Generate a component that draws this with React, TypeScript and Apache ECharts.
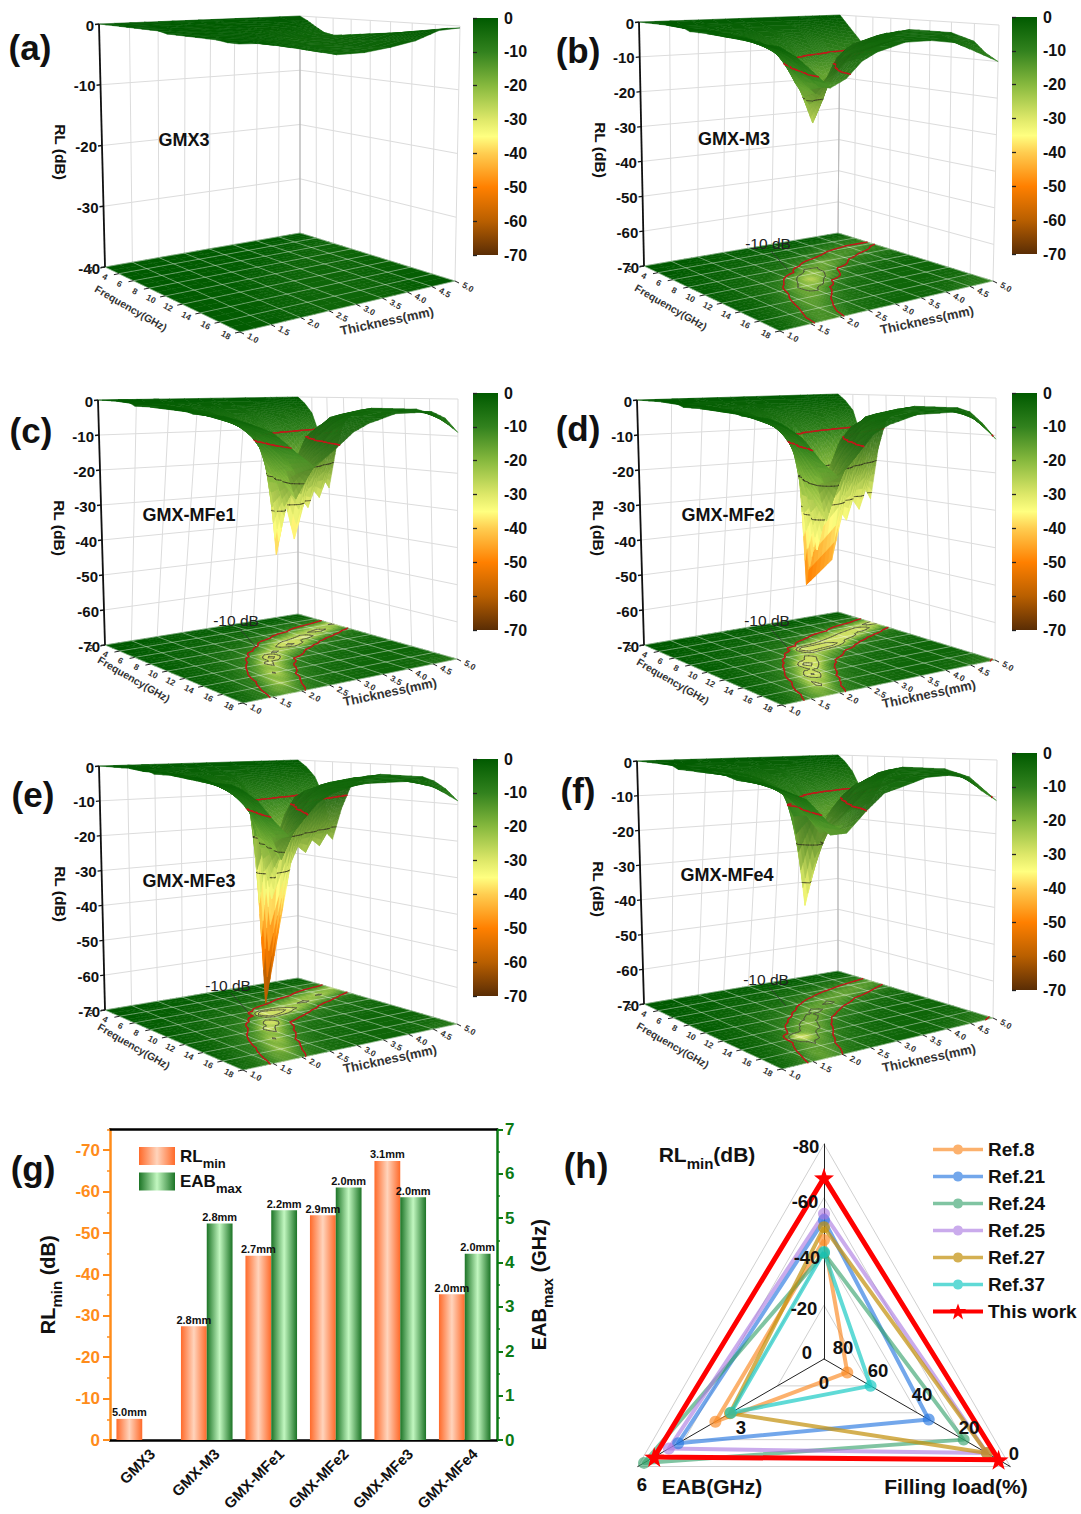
import React, { useEffect, useRef } from "react";
import * as echarts from "echarts";

// ---------- 3D surface data: RL (dB) read per thickness (rows) and frequency (columns)
const thicknessMm = [1, 1.25, 1.5, 1.75, 2, 2.25, 2.5, 2.75, 3, 3.5, 4, 4.5, 5];
const frequencyGHz = [2, 3, 4, 5, 6, 7, 8, 9, 10, 11, 12, 13, 14, 15, 16, 17, 18];

const rlGMX3 = [
  [0,0,0,0,0,0,0,0,0,-.3,-.3,-.3,-.3,-.3,-.3,-.5,-.5],
  [0,0,0,0,0,0,0,0,-.3,-.3,-.3,-.3,-.3,-.5,-.5,-.5,-.6],
  [0,0,0,0,0,0,-.3,-.3,-.3,-.3,-.4,-.5,-.5,-.6,-.7,-1,-1],
  [0,0,0,0,0,-.3,-.3,-.3,-.4,-.5,-.6,-.7,-.8,-1,-1.1,-1.4,-1.5],
  [0,0,0,0,-.3,-.3,-.3,-.4,-.5,-.6,-.8,-1,-1.2,-1.4,-1.6,-1.8,-2],
  [0,0,0,-.3,-.3,-.3,-.4,-.6,-.7,-1,-1.1,-1.4,-1.6,-1.8,-2.1,-2.4,-2.5],
  [0,0,0,-.3,-.3,-.4,-.6,-.7,-1,-1.3,-1.5,-1.8,-2,-2.2,-2.5,-2.8,-3],
  [0,0,0,-.3,-.4,-.6,-.7,-1,-1.3,-1.6,-2,-2.2,-2.4,-2.6,-2.8,-3,-3],
  [0,0,-.3,-.4,-.5,-.7,-1,-1.4,-1.8,-2.2,-2.5,-2.7,-2.9,-3,-3,-3,-3],
  [0,0,-.3,-.5,-.8,-1.1,-1.6,-2.2,-2.6,-2.9,-3,-3,-3,-3,-2.9,-2.7,-2.5],
  [0,-.3,-.5,-.9,-1.4,-2,-2.7,-3,-3,-2.9,-2.7,-2.5,-2.4,-2.2,-2.1,-1.9,-1.8],
  [0,-.5,-1,-1.7,-2.5,-3,-2.9,-2.7,-2.4,-2.2,-2,-1.7,-1.5,-1.2,-1,-.7,-.5],
  [0,-.8,-1.8,-2.7,-3,-2.9,-2.7,-2.5,-2.3,-2.1,-1.9,-1.7,-1.4,-1.1,-.8,-.5,-.3],
];
const rlGMXM3 = [
  [0,0,0,0,0,0,0,-1,-1,-1,-1,-1,-1,-1,-2,-2,-2],
  [0,0,0,0,-1,-1,-1,-1,-1,-2,-2,-2,-2,-3,-3,-4,-5],
  [0,0,-1,-1,-1,-1,-2,-2,-2,-3,-3,-3,-4,-5,-6,-8,-9],
  [0,0,-1,-1,-1,-2,-2,-3,-3,-4,-5,-6,-7,-9,-11,-13,-13],
  [0,-1,-1,-1,-2,-2,-3,-4,-5,-6,-7,-10,-13,-15,-14,-12,-11],
  [0,-1,-1,-2,-2,-3,-4,-5,-6,-10,-15,-16,-17,-13,-10,-8,-7],
  [0,-1,-1,-2,-3,-4,-5,-6,-12,-17,-21,-18,-12,-8,-6,-5,-5],
  [0,-1,-2,-2,-3,-4,-6,-9,-19,-27,-20,-10,-7,-6,-5,-4,-4],
  [0,-1,-2,-3,-4,-6,-9,-18,-22,-18,-9,-6,-5,-4,-4,-3,-3],
  [0,-1,-2,-3,-6,-10,-17,-16,-9,-6,-5,-4,-3,-3,-3,-3,-3],
  [0,-1,-3,-6,-10,-13,-12,-8,-6,-4,-3,-3,-3,-3,-3,-3,-4],
  [0,-2,-5,-8,-12,-12,-8,-6,-4,-3,-3,-3,-3,-3,-4,-5,-7],
  [0,-3,-6,-9,-11,-8,-6,-4,-3,-3,-3,-3,-3,-4,-5,-8,-10],
];
const rlGMXMFe1 = [
  [0,0,0,0,0,0,0,-1,-1,-1,-1,-1,-1,-2,-2,-2,-3],
  [0,0,0,0,-1,-1,-1,-1,-1,-2,-2,-2,-3,-3,-4,-5,-6],
  [0,0,-1,-1,-1,-1,-2,-2,-2,-3,-3,-4,-5,-6,-7,-9,-11],
  [0,0,-1,-1,-1,-2,-2,-3,-3,-4,-5,-6,-8,-10,-13,-17,-15],
  [0,-1,-1,-1,-2,-2,-3,-4,-5,-6,-8,-11,-15,-20,-24,-15,-11],
  [0,-1,-1,-2,-2,-3,-4,-5,-7,-9,-13,-19,-27,-20,-12,-9,-7],
  [0,-1,-1,-2,-3,-4,-5,-7,-10,-16,-30,-24,-14,-9,-7,-6,-5],
  [0,-1,-2,-2,-3,-4,-6,-10,-20,-42,-20,-11,-8,-6,-5,-4,-4],
  [0,-1,-2,-3,-4,-6,-9,-16,-28,-18,-10,-7,-5,-4,-4,-4,-3],
  [0,-1,-2,-4,-6,-11,-24,-40,-14,-8,-5,-4,-4,-3,-3,-3,-3],
  [0,-1,-3,-5,-10,-22,-32,-13,-7,-5,-4,-3,-3,-3,-3,-3,-3],
  [0,-2,-4,-8,-18,-30,-14,-7,-5,-4,-3,-3,-3,-3,-3,-4,-5],
  [0,-2,-5,-12,-28,-15,-7,-5,-4,-3,-3,-3,-3,-3,-4,-6,-9],
];
const rlGMXMFe2 = [
  [0,0,0,0,0,0,0,-1,-1,-1,-1,-1,-1,-2,-2,-2,-3],
  [0,0,0,0,-1,-1,-1,-1,-1,-2,-2,-2,-3,-3,-4,-5,-7],
  [0,0,-1,-1,-1,-1,-2,-2,-2,-3,-3,-4,-5,-6,-8,-10,-13],
  [0,0,-1,-1,-1,-2,-2,-3,-3,-4,-5,-6,-8,-11,-15,-19,-17],
  [0,-1,-1,-1,-2,-2,-3,-4,-5,-6,-8,-12,-18,-25,-29,-17,-12],
  [0,-1,-1,-2,-2,-3,-4,-5,-7,-10,-15,-24,-38,-23,-13,-9,-7],
  [0,-1,-1,-2,-3,-4,-5,-8,-11,-19,-44,-28,-15,-10,-7,-6,-5],
  [0,-1,-2,-2,-3,-5,-7,-11,-22,-32,-24,-12,-8,-6,-5,-4,-4],
  [0,-1,-2,-3,-4,-6,-10,-52,-26,-19,-11,-7,-5,-4,-4,-4,-3],
  [0,-1,-2,-4,-6,-12,-26,-46,-16,-8,-5,-4,-4,-3,-3,-3,-3],
  [0,-1,-3,-5,-10,-24,-36,-14,-7,-5,-4,-3,-3,-3,-3,-3,-3],
  [0,-2,-4,-8,-19,-34,-15,-7,-5,-4,-3,-3,-3,-3,-3,-4,-6],
  [0,-2,-5,-13,-32,-16,-7,-5,-4,-3,-3,-3,-3,-3,-4,-7,-11],
];
const rlGMXMFe3 = [
  [0,0,0,0,0,0,0,-1,-1,-1,-1,-1,-1,-2,-2,-2,-3],
  [0,0,0,0,-1,-1,-1,-1,-1,-2,-2,-2,-3,-3,-4,-5,-6],
  [0,0,-1,-1,-1,-1,-2,-2,-2,-3,-3,-4,-5,-6,-7,-9,-11],
  [0,0,-1,-1,-1,-2,-2,-3,-3,-4,-5,-6,-8,-10,-13,-16,-15],
  [0,-1,-1,-1,-2,-2,-3,-4,-5,-6,-8,-11,-14,-19,-22,-15,-11],
  [0,-1,-1,-2,-2,-3,-4,-5,-7,-9,-12,-18,-25,-19,-12,-9,-7],
  [0,-1,-1,-2,-3,-4,-5,-7,-10,-16,-30,-23,-13,-9,-7,-6,-5],
  [0,-1,-2,-2,-3,-4,-6,-10,-18,-36,-19,-11,-8,-6,-5,-4,-4],
  [0,-1,-2,-3,-4,-7,-12,-67,-22,-13,-8,-6,-5,-4,-4,-4,-3],
  [0,-1,-2,-4,-6,-11,-20,-28,-13,-8,-5,-4,-4,-3,-3,-3,-3],
  [0,-1,-3,-5,-9,-19,-26,-12,-7,-5,-4,-3,-3,-3,-3,-3,-3],
  [0,-2,-4,-8,-16,-25,-13,-7,-5,-4,-3,-3,-3,-3,-3,-4,-5],
  [0,-2,-5,-11,-24,-14,-7,-5,-4,-3,-3,-3,-3,-3,-4,-6,-9],
];
const rlGMXMFe4 = [
  [0,0,0,0,0,0,0,-1,-1,-1,-1,-1,-1,-2,-2,-2,-3],
  [0,0,0,0,-1,-1,-1,-1,-1,-2,-2,-2,-3,-3,-4,-5,-6],
  [0,0,-1,-1,-1,-1,-2,-2,-2,-3,-3,-4,-5,-6,-8,-10,-12],
  [0,0,-1,-1,-1,-2,-2,-3,-3,-4,-5,-6,-8,-11,-14,-16,-15],
  [0,-1,-1,-1,-2,-2,-3,-4,-5,-6,-8,-11,-36,-17,-15,-13,-10],
  [0,-1,-1,-2,-2,-3,-4,-5,-7,-9,-14,-18,-17,-14,-10,-8,-6],
  [0,-1,-1,-2,-3,-4,-5,-7,-9,-14,-20,-17,-12,-8,-6,-5,-5],
  [0,-1,-2,-2,-3,-4,-6,-9,-14,-19,-14,-10,-7,-6,-5,-4,-4],
  [0,-1,-2,-3,-4,-6,-9,-14,-18,-13,-9,-6,-5,-4,-4,-3,-3],
  [0,-1,-2,-4,-6,-10,-15,-17,-11,-7,-5,-4,-3,-3,-3,-3,-3],
  [0,-1,-3,-5,-9,-15,-16,-10,-6,-4,-3,-3,-3,-3,-3,-3,-4],
  [0,-2,-4,-7,-13,-16,-11,-6,-4,-3,-3,-3,-3,-3,-4,-5,-8],
  [0,-2,-5,-10,-15,-11,-6,-4,-3,-3,-3,-3,-3,-4,-5,-8,-11],
];

const frequencyTicks = [2, 4, 6, 8, 10, 12, 14, 16, 18];
const thicknessTicks = ["1.0", "1.5", "2.0", "2.5", "3.0", "3.5", "4.0", "4.5", "5.0"];
const rlTicks40 = [0, -10, -20, -30, -40];
const rlTicks70 = [0, -10, -20, -30, -40, -50, -60, -70];

// ---------- bar chart (g)
const categories = ["GMX3", "GMX-M3", "GMX-MFe1", "GMX-MFe2", "GMX-MFe3", "GMX-MFe4"];
const rlMin = [-5.1, -27.5, -44.5, -54.3, -67.4, -35.2];
const eabMax = [null, 4.88, 5.18, 5.69, 5.47, 4.2];
const rlThickness = ["5.0mm", "2.8mm", "2.7mm", "2.9mm", "3.1mm", "2.0mm"];
const eabThickness = ["", "2.8mm", "2.2mm", "2.0mm", "2.0mm", "2.0mm"];

// ---------- radar chart (h)
const refNames = ["Ref.8", "Ref.21", "Ref.24", "Ref.25", "Ref.27", "Ref.37", "This work"];
const refRL = [-44.3, -51.7, -39.4, -54, -49, -39.8, -67.4];
const refEAB = [3.5, 4.7, 5.8, 5.0, 3.03, 3.0, 5.47];
const refLoad = [70, 35, 20, 10, 10, 60, 5];
const refColors = [
  "rgba(250,140,40,0.68)", "rgba(40,120,225,0.65)", "rgba(50,160,105,0.62)", "rgba(170,120,225,0.62)",
  "rgba(195,145,15,0.72)", "rgba(20,200,195,0.68)", "#ff0000",
];

// ---------- layout (pixels)
type Pt = [number, number];
const FONT = "Liberation Sans";
const layouts: any[] = [
  { title: "GMX3", table: rlGMX3, zmin: -40, ticks: rlTicks40, tag: "(a)", tagAt: [30, 47], nameAt: [184, 140], dbAt: null, inner: [],
    L: [105, 267], B: [300, 233], R: [455, 281], F: [240, 332], Lt: [99, 24], Bt: [300, 16], Rt: [460, 26], bar: [473, 18, 25, 237] },
  { title: "GMX-M3", table: rlGMXM3, zmin: -70, ticks: rlTicks70, tag: "(b)", tagAt: [578, 50], nameAt: [734, 139], dbAt: [768, 243], inner: [-17],
    L: [644, 266], B: [838, 233], R: [993, 281], F: [780, 331], Lt: [639, 22], Bt: [840, 15], Rt: [999, 25], bar: [1012, 17, 25, 237] },
  { title: "GMX-MFe1", table: rlGMXMFe1, zmin: -70, ticks: rlTicks70, tag: "(c)", tagAt: [31, 430], nameAt: [189, 515], dbAt: [236, 620], inner: [-26, -36],
    L: [105, 645], B: [298, 614], R: [457, 659], F: [243, 703], Lt: [98, 400], Bt: [298, 397], Rt: [458, 399], bar: [473, 393, 25, 237] },
  { title: "GMX-MFe2", table: rlGMXMFe2, zmin: -70, ticks: rlTicks70, tag: "(d)", tagAt: [578, 428], nameAt: [728, 515], dbAt: [767, 620], inner: [-26, -36],
    L: [644, 645], B: [838, 612], R: [995, 660], F: [782, 705], Lt: [637, 400], Bt: [838, 394], Rt: [996, 398], bar: [1012, 393, 25, 237] },
  { title: "GMX-MFe3", table: rlGMXMFe3, zmin: -70, ticks: rlTicks70, tag: "(e)", tagAt: [33, 794], nameAt: [189, 881], dbAt: [228, 985], inner: [-24, -36],
    L: [105, 1010], B: [298, 978], R: [457, 1024], F: [243, 1070], Lt: [99, 766], Bt: [298, 760], Rt: [458, 768], bar: [473, 759, 25, 237] },
  { title: "GMX-MFe4", table: rlGMXMFe4, zmin: -70, ticks: rlTicks70, tag: "(f)", tagAt: [578, 790], nameAt: [727, 875], dbAt: [766, 979], inner: [-16],
    L: [644, 1004], B: [838, 971], R: [993, 1018], F: [782, 1069], Lt: [637, 761], Bt: [838, 755], Rt: [997, 760], bar: [1012, 753, 25, 237] },
];

const colorStops: [number, number[]][] = [
  [0, [0, 90, 0]], [-10, [50, 130, 30]], [-20, [135, 185, 62]], [-30, [222, 232, 105]], [-35, [255, 255, 128]],
  [-40, [255, 205, 80]], [-50, [255, 128, 0]], [-60, [185, 95, 0]], [-70, [90, 45, 5]],
];
const rgbAt = (v: number): number[] => {
  if (v >= 0) return colorStops[0][1];
  for (let k = 1; k < colorStops.length; k++) {
    const [v1, c1] = colorStops[k];
    const [v0, c0] = colorStops[k - 1];
    if (v >= v1) {
      const a = (v - v0) / (v1 - v0);
      return c0.map((c, n) => c + (c1[n] - c) * a);
    }
  }
  return [90, 45, 5];
};
const css = (c: number[], k = 1) => `rgb(${c.map((x) => Math.round(x * k)).join(",")})`;

const homography = (q: Pt[]) => {
  const [[x0, y0], [x1, y1], [x2, y2], [x3, y3]] = q;
  const dx1 = x1 - x2, dx2 = x3 - x2, sx = x0 - x1 + x2 - x3;
  const dy1 = y1 - y2, dy2 = y3 - y2, sy = y0 - y1 + y2 - y3;
  const den = dx1 * dy2 - dx2 * dy1;
  const g = (sx * dy2 - dx2 * sy) / den, h = (dx1 * sy - sx * dy1) / den;
  const a = x1 - x0 + g * x1, b = x3 - x0 + h * x3;
  const d = y1 - y0 + g * y1, e = y3 - y0 + h * y3;
  return (u: number, v: number): Pt => {
    const w = g * u + h * v + 1;
    return [(a * u + b * v + x0) / w, (d * u + e * v + y0) / w];
  };
};

const makeProject = (p: any) => {
  const height = (p.L[1] - p.Lt[1]) * 1.2;
  const Ft: Pt = [p.F[0] - 1, p.F[1] - height];
  const floor = homography([p.L, p.F, p.R, p.B]);
  const top = homography([p.Lt, Ft, p.Rt, p.Bt]);
  return (f: number, t: number, z: number): Pt => {
    const u = (f - 2) / 16, v = (t - 1) / 4;
    const a = floor(u, v), b = top(u, v), k = z / p.zmin;
    return [b[0] + (a[0] - b[0]) * k, b[1] + (a[1] - b[1]) * k];
  };
};

const contourSegs = (
  c: { f: number; t: number; v: number }[], level: number,
): { f: number; t: number }[][] => {
  const pts: { f: number; t: number }[] = [];
  for (let n = 0; n < 4; n++) {
    const a = c[n], b = c[(n + 1) % 4];
    if ((a.v > level) !== (b.v > level)) {
      const s = (level - a.v) / (b.v - a.v);
      pts.push({ f: a.f + (b.f - a.f) * s, t: a.t + (b.t - a.t) * s });
    }
  }
  const segs: { f: number; t: number }[][] = [];
  if (pts.length >= 2) segs.push([pts[0], pts[1]]);
  if (pts.length === 4) segs.push([pts[2], pts[3]]);
  return segs;
};

const cellItems: number[][] = [];
for (let i = thicknessMm.length - 2; i >= 0; i--) {
  for (let j = 0; j < frequencyGHz.length - 1; j++) cellItems.push([i, j]);
}

const surfaceLines = [
  { level: -10, stroke: "#c2181a", lineWidth: 1.5 },
  { level: -20, stroke: "rgba(50,50,30,0.8)", lineWidth: 0.9 },
  { level: -30, stroke: "rgba(50,50,30,0.8)", lineWidth: 0.9 },
];
const floorRed = { level: -10, stroke: "#c2181a", lineWidth: 1.3 };

type Mode = "surface" | "floor" | "floorContour";
const cellChildren = (p: any, proj: any, i: number, j: number, mode: Mode) => {
  const tb = p.table;
  const onFloor = mode !== "surface";
  const v00 = tb[i][j], v01 = tb[i][j + 1], v10 = tb[i + 1][j], v11 = tb[i + 1][j + 1];
  const range = Math.max(v00, v01, v10, v11) - Math.min(v00, v01, v10, v11);
  const n = onFloor ? (range > 3 ? 4 : range > 0.6 ? 2 : 1) : range > 6 ? 6 : range > 1.2 ? 3 : 1;
  const t0 = thicknessMm[i], t1 = thicknessMm[i + 1], f0 = frequencyGHz[j], f1 = frequencyGHz[j + 1];
  const at = (sa: number, sb: number) => {
    const a = sa / n, b = sb / n;
    return {
      t: t0 + (t1 - t0) * a,
      f: f0 + (f1 - f0) * b,
      v: v00 * (1 - a) * (1 - b) + v01 * (1 - a) * b + v10 * a * (1 - b) + v11 * a * b,
    };
  };
  const pr = (q: { f: number; t: number; v?: number }) => proj(q.f, q.t, onFloor ? p.zmin : (q.v as number));
  const levels = onFloor
    ? [floorRed, ...p.inner.map((level: number) => ({ level, stroke: "rgba(75,75,60,0.9)", lineWidth: 0.8 }))]
    : surfaceLines;
  const out: any[] = [];
  const lines: any[] = [];
  for (let sa = n - 1; sa >= 0; sa--) {
    for (let sb = 0; sb < n; sb++) {
      const c = [at(sa, sb), at(sa, sb + 1), at(sa + 1, sb + 1), at(sa + 1, sb)];
      const avg = (c[0].v + c[1].v + c[2].v + c[3].v) / 4;
      if (mode !== "floorContour") {
        // near flank (RL rising towards high frequency) reads slightly darker, only in the green range
        const slope = ((c[1].v + c[2].v - c[0].v - c[3].v) / 2) / ((f1 - f0) / n);
        const fade = Math.max(0, Math.min(1, (avg + 28) / 10));
        const k = onFloor ? 1 : 1 - 0.16 * fade * Math.min(1, Math.max(0, slope / 3));
        const col = css(rgbAt(onFloor ? Math.max(avg, -28) : avg), k);
        out.push({
          type: "polygon", silent: true,
          shape: { points: c.map(pr) },
          style: { fill: col, stroke: col, lineWidth: 0.5 },
        });
      }
      if (mode !== "floor") {
        for (const ln of levels) {
          for (const s of contourSegs(c, ln.level)) {
            const a = pr({ ...s[0], v: ln.level }), b = pr({ ...s[1], v: ln.level });
            lines.push({
              type: "line", silent: true,
              shape: { x1: a[0], y1: a[1], x2: b[0], y2: b[1] },
              style: { stroke: ln.stroke, lineWidth: ln.lineWidth, lineCap: "round" },
            });
          }
        }
      }
    }
  }
  return out.concat(lines);
};

const line = (a: Pt, b: Pt, stroke: string, lineWidth: number) => ({
  type: "line", silent: true,
  shape: { x1: a[0], y1: a[1], x2: b[0], y2: b[1] },
  style: { stroke, lineWidth },
});
const text = (s: string, x: number, y: number, o: any = {}) => ({
  type: "text", silent: true, x, y, rotation: o.rotation || 0,
  style: {
    text: s, fill: o.fill || "#111", fontSize: o.size || 13, fontWeight: o.weight || "bold", fontFamily: FONT,
    align: o.align || "center", verticalAlign: "middle",
  },
});

const panelSeries = (p: any, idx: number) => {
  const proj = makeProject(p);
  const tVals = thicknessTicks.map(Number);
  const walls = () => {
    const ch: any[] = [];
    const wc = "#dcdcdc";
    for (const z of p.ticks) {
      ch.push(line(proj(2, 1, z), proj(2, 5, z), wc, 1));
      ch.push(line(proj(2, 5, z), proj(18, 5, z), wc, 1));
    }
    for (const t of tVals) ch.push(line(proj(2, t, 0), proj(2, t, p.zmin), t === 5 ? "#bbb" : wc, 1));
    for (const f of frequencyTicks) ch.push(line(proj(f, 5, 0), proj(f, 5, p.zmin), f === 2 ? "#bbb" : wc, 1));
    return { type: "group", children: ch };
  };
  const floorGrid = () => {
    const ch: any[] = [];
    const c = "rgba(255,255,255,0.42)";
    for (const t of tVals) ch.push(line(proj(2, t, p.zmin), proj(18, t, p.zmin), c, 0.9));
    for (const f of frequencyTicks) ch.push(line(proj(f, 1, p.zmin), proj(f, 5, p.zmin), c, 0.9));
    return { type: "group", children: ch };
  };
  const overlay = () => {
    const ch: any[] = [];
    ch.push(line(p.Lt, p.L, "#111", 1.8));
    for (const z of p.ticks) {
      const a = proj(2, 1, z);
      ch.push(line(a, [a[0] - 4, a[1] + 0.5], "#111", 1.3));
      ch.push(text(String(z), a[0] - 5, a[1] + 1, { align: "right", size: 15 }));
    }
    ch.push(text("RL (dB)", p.Lt[0] - 39, p.Lt[1] + 128, { rotation: -Math.PI / 2, size: 15.5 }));
    const labelC = "#333";
    frequencyTicks.forEach((f) => {
      const a = proj(f, 1, p.zmin);
      ch.push(line(a, [a[0] - 5, a[1] + 1], "#222", 1));
      ch.push(text(String(f), a[0] - 14, a[1] + 3, { rotation: -0.5, size: 8.5, fill: labelC }));
    });
    thicknessTicks.forEach((s, n) => {
      const a = proj(18, tVals[n], p.zmin);
      ch.push(line(a, [a[0] + 4, a[1] + 2], "#222", 1));
      ch.push(text(s, a[0] + 13, a[1] + 6, { rotation: -0.5, size: 8.5, fill: labelC }));
    });
    ch.push(text("Frequency(GHz)", p.F[0] - 109, p.F[1] - 24, { rotation: -0.52, size: 10.5, fill: labelC }));
    ch.push(text("Thickness(mm)", p.F[0] + 147, p.F[1] - 11, { rotation: 0.21, size: 13, fill: labelC }));
    if (p.dbAt) {
      ch.push(line([p.dbAt[0] + 3, p.dbAt[1] + 8], [p.dbAt[0] + 20, p.dbAt[1] + 27], "#333", 0.8));
      ch.push(text("-10 dB", p.dbAt[0], p.dbAt[1], { size: 15.5, weight: "normal", fill: "#222" }));
    }
    return { type: "group", children: ch };
  };
  const base = { type: "custom", coordinateSystem: "none", silent: true, animation: false, tooltip: { show: false } };
  const cells = (mode: Mode) => (pr: any) => ({
    type: "group",
    children: cellChildren(p, proj, cellItems[pr.dataIndex][0], cellItems[pr.dataIndex][1], mode),
  });
  return [
    { ...base, name: `walls-${idx}`, z: 1, data: [[0]], renderItem: walls },
    { ...base, name: `floor-${idx}`, z: 2, data: cellItems, renderItem: cells("floor") },
    { ...base, name: `floorgrid-${idx}`, z: 3, data: [[0]], renderItem: floorGrid },
    { ...base, name: `floorcontour-${idx}`, z: 3, data: cellItems, renderItem: cells("floorContour") },
    { ...base, name: `surface-${idx}`, z: 4, data: cellItems, renderItem: cells("surface") },
    { ...base, name: `overlay-${idx}`, z: 5, data: [[0]], renderItem: overlay },
  ];
};

const gradientFor = () =>
  new echarts.graphic.LinearGradient(
    0, 0, 0, 1,
    colorStops.map(([v, c]) => ({ offset: -v / 70, color: `rgb(${c.join(",")})` })),
  );

const orangeFill = new echarts.graphic.LinearGradient(0, 0, 1, 0, [
  { offset: 0, color: "#ff6a2a" }, { offset: 0.5, color: "#ffd4bc" }, { offset: 1, color: "#ff6a2a" },
]);
const greenFill = new echarts.graphic.LinearGradient(0, 0, 1, 0, [
  { offset: 0, color: "#1c7426" }, { offset: 0.5, color: "#c2f7c0" }, { offset: 1, color: "#1c7426" },
]);

const ICON_DOT = "path://M0 6.3H20.3A5 5 0 0 1 29.7 6.3H50V9.7H29.7A5 5 0 0 1 20.3 9.7H0Z M0 0L0 0Z M0 16L0 16Z";
const ICON_STAR = "path://M0 6H50V10H0Z M25 0L27 5.6L33 5.6L28.2 9.2L30 16L25 12L20 16L21.8 9.2L17 5.6L23 5.6Z";
const STAR = "path://M0 -10L2.35 -3.24L9.51 -3.09L3.8 1.24L5.88 8.09L0 4L-5.88 8.09L-3.8 1.24L-9.51 -3.09L-2.35 -3.24Z";

const gText = (s: string, x: number, y: number, size: number, extra: any = {}) => ({
  type: "text", x, y, z: 100, silent: true,
  style: {
    text: s, fontSize: size, fontWeight: "bold", fontFamily: FONT, fill: "#111",
    align: "center", verticalAlign: "middle", ...extra,
  },
});

const buildOption = () => {
  const grids: any[] = [{ left: 110, width: 387, top: 1129.5, height: 310.5, outerBoundsMode: "none" }];
  const titleRich = {
    a: { fontFamily: FONT, fontWeight: "bold", fontSize: 20, color: "#111" },
    b: { fontFamily: FONT, fontWeight: "bold", fontSize: 15, color: "#111", verticalAlign: "bottom", padding: [0, 0, -6, 0] },
  };
  const xAxes: any[] = [
    {
      type: "category", gridIndex: 0, data: categories, position: "bottom",
      axisLine: { onZero: false, lineStyle: { color: "#000", width: 2.5 } },
      axisTick: { alignWithLabel: true, length: 6, lineStyle: { color: "#000", width: 2 } },
      axisLabel: {
        interval: 0, rotate: 45, fontFamily: FONT, fontWeight: "bold", fontSize: 15, color: "#111", margin: 21,
        padding: [0, -14, 0, 0],
      },
    },
    {
      type: "category", gridIndex: 0, data: categories, position: "top",
      axisLine: { onZero: false, lineStyle: { color: "#000", width: 2.5 } }, axisTick: { show: false }, axisLabel: { show: false },
    },
  ];
  const yAxes: any[] = [
    {
      type: "value", gridIndex: 0, min: -75, max: 0, interval: 5, inverse: true, position: "left",
      name: "{a|RL}{b|min}{a| (dB)}", nameLocation: "middle", nameGap: 52, nameRotate: 90,
      nameTextStyle: { rich: titleRich },
      axisLine: { show: true, lineStyle: { color: "#ff8c1a", width: 2.5 } },
      axisTick: { show: true, length: 3, lineStyle: { color: "#ff8c1a", width: 1.5 } },
      axisLabel: {
        fontFamily: FONT, fontWeight: "bold", fontSize: 17, color: "#ff8c1a", margin: 10,
        formatter: (v: number) => (v % 10 === 0 ? String(v) : ""),
      },
      splitLine: { show: false },
    },
    {
      type: "value", gridIndex: 0, min: -75, max: 0, inverse: true, position: "left",
      axisLine: { show: false },
      axisTick: { show: true, length: 7, customValues: rlTicks70, lineStyle: { color: "#ff8c1a", width: 2 } },
      axisLabel: { show: false }, splitLine: { show: false },
    },
    {
      type: "value", gridIndex: 0, min: 0, max: 7, interval: 1, position: "right",
      name: "{a|EAB}{b|max}{a| (GHz)}", nameLocation: "middle", nameGap: 32, nameRotate: 90,
      nameTextStyle: { rich: titleRich },
      axisLine: { show: true, lineStyle: { color: "#0b7a14", width: 2.5 } },
      axisTick: { show: true, length: 6, lineStyle: { color: "#0b7a14", width: 2 } },
      minorTick: { show: true, splitNumber: 2, length: 3, lineStyle: { color: "#0b7a14", width: 1.5 } },
      axisLabel: { fontFamily: FONT, fontWeight: "bold", fontSize: 17, color: "#0b7a14", margin: 8 },
      splitLine: { show: false },
    },
  ];
  layouts.forEach((p) => {
    const g = grids.length;
    const [x, y, w, h] = p.bar;
    grids.push({
      left: x, top: y, width: w, height: h, show: true, borderWidth: 0, backgroundColor: gradientFor(),
      outerBoundsMode: "none",
    });
    xAxes.push({ type: "value", gridIndex: g, show: false, min: 0, max: 1 });
    yAxes.push({
      type: "value", gridIndex: g, min: -70, max: 0, interval: 10, position: "right",
      axisLine: { show: false },
      axisTick: { show: true, length: 4, lineStyle: { color: "#222", width: 1.3 } },
      axisLabel: { fontFamily: FONT, fontWeight: "bold", fontSize: 16, color: "#111", margin: 6 },
      splitLine: { show: false },
    });
  });

  const series: any[] = [];
  layouts.forEach((p, i) => series.push(...panelSeries(p, i)));

  const labelBase = { show: true, position: "top", distance: 1, fontFamily: FONT, fontWeight: "bold", fontSize: 11, color: "#111" };
  series.push({
    type: "bar", name: "RLmin", xAxisIndex: 0, yAxisIndex: 0, data: rlMin, barWidth: "40%", barGap: 0,
    itemStyle: { color: orangeFill },
    label: { ...labelBase, formatter: (o: any) => rlThickness[o.dataIndex] },
  });
  series.push({
    type: "bar", name: "EABmax", xAxisIndex: 0, yAxisIndex: 2, data: eabMax, barWidth: "40%", barGap: 0,
    itemStyle: { color: greenFill },
    label: { ...labelBase, formatter: (o: any) => eabThickness[o.dataIndex] },
  });

  refNames.forEach((name, i) => {
    const star = name === "This work";
    series.push({
      type: "radar", radarIndex: 0, name, z: star ? 6 : 5,
      symbol: star ? STAR : "circle", symbolSize: star ? 20 : 12,
      lineStyle: { color: refColors[i], width: star ? 5 : 4 },
      itemStyle: { color: refColors[i] },
      data: [{ name, value: [-refRL[i], refEAB[i], 80 - refLoad[i]] }],
    });
  });

  const subRich = {
    n: { fontFamily: FONT, fontWeight: "bold", fontSize: 17, color: "#111" },
    s: { fontFamily: FONT, fontWeight: "bold", fontSize: 13, color: "#111", verticalAlign: "bottom", padding: [0, 0, -5, 0] },
  };

  const graphics: any[] = [];
  layouts.forEach((p) => {
    graphics.push(gText(p.tag, p.tagAt[0], p.tagAt[1], 35));
    graphics.push(gText(p.title, p.nameAt[0], p.nameAt[1], 18));
  });
  graphics.push(gText("(g)", 33, 1168, 35));
  graphics.push(gText("(h)", 586, 1165, 35));
  const rt: [string, number, number][] = [
    ["-80", 806, 1146], ["-60", 805, 1201], ["-40", 807, 1257], ["-20", 804, 1308], ["0", 807, 1352],
    ["80", 843, 1347], ["60", 878, 1370], ["40", 922, 1394], ["20", 969, 1427], ["0", 1014, 1453],
    ["0", 824, 1382], ["3", 741, 1427], ["6", 642, 1484],
  ];
  rt.forEach(([s, x, y]) => graphics.push(gText(s, x, y, 18.5)));
  graphics.push(gText("{a|RL}{b|min}{a|(dB)}", 707, 1154, 21, {
    rich: {
      a: { fontFamily: FONT, fontWeight: "bold", fontSize: 21, fill: "#111" },
      b: { fontFamily: FONT, fontWeight: "bold", fontSize: 15, fill: "#111", verticalAlign: "bottom", padding: [0, 0, -6, 0] },
    },
  }));
  graphics.push(gText("EAB(GHz)", 712, 1486, 21));
  graphics.push(gText("Filling load(%)", 956, 1486, 21));

  return {
    animation: false,
    backgroundColor: "#fff",
    grid: grids,
    xAxis: xAxes,
    yAxis: yAxes,
    radar: {
      center: [824, 1359], radius: 215, startAngle: 90, splitNumber: 4, shape: "polygon",
      indicator: [
        { name: "RLmin(dB)", min: 0, max: 80 },
        { name: "EAB(GHz)", min: 0, max: 6 },
        { name: "Filling load(%)", min: 0, max: 80 },
      ],
      axisName: { show: false },
      axisLine: { lineStyle: { color: "#222", width: 1 } },
      axisTick: { show: false },
      splitLine: { lineStyle: { color: "#d0d0d0", width: 1 } },
      splitArea: { show: false },
    },
    legend: [
      {
        left: 134, top: 1142, orient: "vertical", itemWidth: 36, itemHeight: 18, itemGap: 3, selectedMode: false,
        data: [{ name: "RLmin", icon: "rect" }, { name: "EABmax", icon: "rect" }],
        formatter: (n: string) => (n === "RLmin" ? "{n|RL}{s|min}" : "{n|EAB}{s|max}"),
        textStyle: { rich: subRich },
      },
      {
        left: 928, top: 1135, orient: "vertical", itemWidth: 50, itemHeight: 16, itemGap: 8, selectedMode: false,
        data: refNames.map((name) => ({ name, icon: name === "This work" ? ICON_STAR : ICON_DOT })),
        textStyle: { fontFamily: FONT, fontWeight: "bold", fontSize: 19, color: "#111" },
      },
    ],
    graphic: { elements: graphics },
    series,
  };
};

export default function App() {
  const ref = useRef<HTMLDivElement>(null);
  useEffect(() => {
    document.body.style.margin = "0";
    const chart = echarts.init(ref.current as HTMLDivElement, undefined, { renderer: "svg" });
    chart.setOption(buildOption() as any);
    return () => chart.dispose();
  }, []);
  return <div ref={ref} style={{ position: "absolute", left: 0, top: 0, width: 1081, height: 1514 }} />;
}
